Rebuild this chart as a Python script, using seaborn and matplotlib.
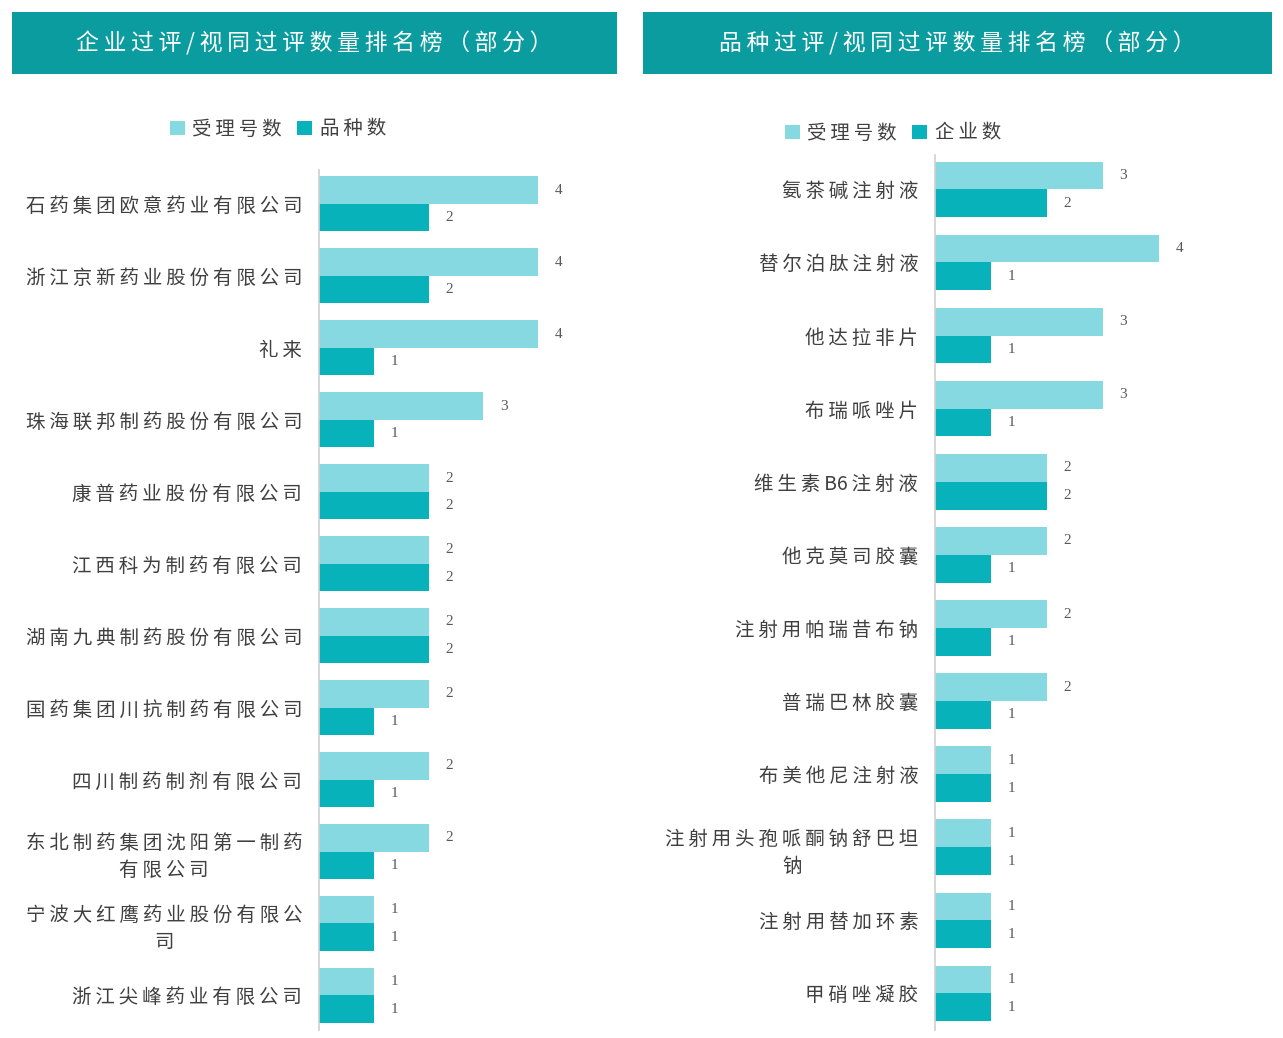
import matplotlib
matplotlib.use("Agg")
import matplotlib.pyplot as plt
import seaborn as sns
import pandas as pd
from matplotlib.patches import Rectangle, Patch

sns.set_theme(style="white")
plt.rcParams['font.family'] = ['Noto Sans CJK SC', 'DejaVu Sans']

# ---------------- data ----------------
companies = ["石药集团欧意药业有限公司", "浙江京新药业股份有限公司", "礼来",
             "珠海联邦制药股份有限公司", "康普药业股份有限公司", "江西科为制药有限公司",
             "湖南九典制药股份有限公司", "国药集团川抗制药有限公司", "四川制药制剂有限公司",
             "东北制药集团沈阳第一制药\n有限公司", "宁波大红鹰药业股份有限公\n司", "浙江尖峰药业有限公司"]
company_accept = [4, 4, 4, 3, 2, 2, 2, 2, 2, 2, 1, 1]
company_varieties = [2, 2, 1, 1, 2, 2, 2, 1, 1, 1, 1, 1]

drugs = ["氨茶碱注射液", "替尔泊肽注射液", "他达拉非片", "布瑞哌唑片", "维生素B6注射液",
         "他克莫司胶囊", "注射用帕瑞昔布钠", "普瑞巴林胶囊", "布美他尼注射液",
         "注射用头孢哌酮钠舒巴坦\n钠", "注射用替加环素", "甲硝唑凝胶"]
drug_accept = [3, 4, 3, 3, 2, 2, 2, 2, 1, 1, 1, 1]
drug_companies = [2, 1, 1, 1, 2, 1, 1, 1, 1, 1, 1, 1]

titles = ["企业过评/视同过评数量排名榜（部分）", "品种过评/视同过评数量排名榜（部分）"]
series_left = ["受理号数", "品种数"]
series_right = ["受理号数", "企业数"]

LIGHT = "#86D9E0"
DARK = "#07B2BA"
HEADER = "#0B9CA0"
TEXT = "#404040"
NUM = "#595959"

W, H = 1283, 1038
fig = plt.figure(figsize=(W / 100, H / 100), dpi=100)
fig.patch.set_facecolor("white")


def fx(px):
    return px / W


def fy(py):
    return 1 - py / H


def spaced(s):
    # letter spacing via thin spaces (DejaVu fallback), not between ASCII chars
    out_lines = []
    for line in s.split("\n"):
        buf = ""
        for i, ch in enumerate(line):
            if i > 0 and not (ch.isascii() and ch.isalnum() and line[i - 1].isascii() and line[i - 1].isalnum()):
                buf += "\u2009"
            buf += ch
        out_lines.append(buf)
    return "\n".join(out_lines)


def make_df(cats, a, b, names):
    return pd.DataFrame({
        "cat": cats + cats,
        "val": a + b,
        "series": [names[0]] * len(cats) + [names[1]] * len(cats),
    })


def panel(rect, cats, a, b, names, xmax, ylim):
    ax = fig.add_axes(rect)
    df = make_df(cats, a, b, names)
    sns.barplot(data=df, y="cat", x="val", hue="series", orient="h",
                palette=[LIGHT, DARK], width=0.76, ax=ax, legend=False,
                saturation=1, edgecolor="none", linewidth=0)
    ax.set_xlim(0, xmax)
    ax.set_ylim(*ylim)
    for c in ax.containers:
        ax.bar_label(c, padding=12, fontsize=11, color=NUM,
                     family="Liberation Serif")
    for s in ["top", "right", "bottom"]:
        ax.spines[s].set_visible(False)
    ax.spines["left"].set_color("#D0D0D0")
    ax.spines["left"].set_linewidth(1.2)
    ax.set_xticks([])
    ax.set_xlabel("")
    ax.set_ylabel("")
    ax.set_yticks(range(len(cats)))
    ax.set_yticklabels([spaced(c) for c in cats])
    ax.tick_params(axis="y", length=0, pad=12, labelsize=14, labelcolor=TEXT)
    for lab in ax.get_yticklabels():
        lab.set_multialignment("center")
        lab.set_linespacing(1.4)
    return ax


# left panel
panel([fx(319), fy(1030), fx(296), (1030 - 170) / H], companies,
      company_accept, company_varieties, series_left, 296 / 54.75, (11.48, -0.47))
# right panel
panel([fx(935), fy(1030), fx(290), (1030 - 155) / H], drugs,
      drug_accept, drug_companies, series_right, 290 / 56, (11.5, -0.47))

# headers
for (x0, x1), title in zip([(12, 617), (643, 1272)], titles):
    fig.patches.append(Rectangle((fx(x0), fy(74)), fx(x1 - x0), (74 - 12) / H,
                                 transform=fig.transFigure, facecolor=HEADER,
                                 edgecolor="none", zorder=0))
    fig.text(fx((x0 + x1) / 2), fy(43), spaced(title), color="white", fontsize=16.5,
             ha="center", va="center")

# legends
for cx, cy, names in [(278, 129, series_left), (893, 133, series_right)]:
    handles = [Patch(facecolor=LIGHT, edgecolor="none"),
               Patch(facecolor=DARK, edgecolor="none")]
    fig.legend(handles, [spaced(n) for n in names], loc="center",
               bbox_to_anchor=(fx(cx), fy(cy)),
               ncol=2, frameon=False, fontsize=14, handlelength=0.75,
               handleheight=0.75, handletextpad=0.4, columnspacing=0.8,
               labelcolor=TEXT)

fig.savefig("out.png", dpi=100, facecolor="white")
